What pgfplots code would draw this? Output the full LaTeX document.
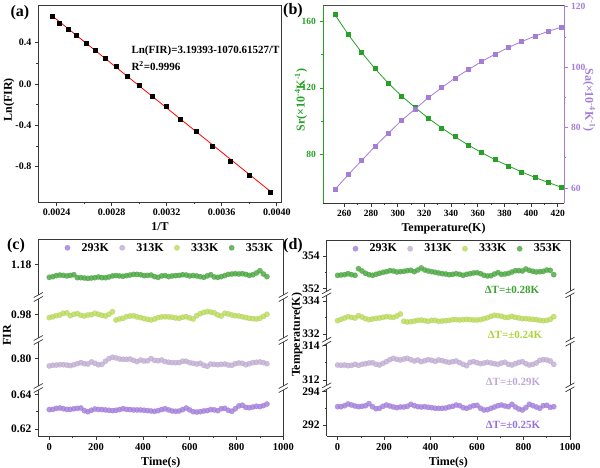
\documentclass[border=0pt]{standalone}
\usepackage{fontspec}
\setmainfont{Liberation Serif}
\usepackage{pgfplots}
\usepackage{pgfplotstable}
\pgfplotsset{compat=1.18}
\definecolor{cA}{RGB}{168,132,224}
\definecolor{cB}{RGB}{198,178,216}
\definecolor{cC}{RGB}{190,222,95}
\definecolor{cD}{RGB}{80,172,70}
\definecolor{srg}{RGB}{40,160,40}
\definecolor{sap}{RGB}{165,125,215}
\definecolor{frm}{RGB}{55,55,55}

\pgfplotstableread{
T invT lnfir
423 0.00236407 0.658
413 0.00242131 0.587
403 0.00248139 0.532
393 0.00254453 0.468
383 0.00261097 0.394
373 0.00268097 0.326
363 0.00275482 0.248
353 0.00283286 0.171
343 0.00291545 0.077
333 0.00300300 -0.013
323 0.00309598 -0.113
313 0.00319489 -0.219
303 0.00330033 -0.339
293 0.00341297 -0.458
283 0.00353357 -0.603
273 0.00366300 -0.745
263 0.00380228 -0.887
253 0.00395257 -1.048
}\tblA

\pgfplotstableread{
T Sr Sa
253 164.2 59.5
263 152.2 64.4
273 141.4 69.1
283 131.6 73.8
293 122.8 78.1
303 115.0 82.4
313 108.2 86.1
323 101.6 89.9
333 95.8 93.2
343 90.4 96.4
353 85.4 99.2
363 80.8 101.9
373 76.6 104.3
383 72.8 106.5
393 69.2 108.5
403 65.8 110.3
413 62.8 111.9
423 59.8 113.3
}\tblB

\pgfplotstableread{
t a b c d
0 0.6312 0.7956 0.9781 1.1725
15 0.6313 0.7960 0.9786 1.1729
30 0.6319 0.7961 0.9792 1.1735
45 0.6321 0.7963 0.9796 1.1738
60 0.6317 0.7963 0.9806 1.1736
75 0.6313 0.7961 0.9808 1.1733
90 0.6313 0.7958 0.9792 1.1736
105 0.6317 0.7963 0.9800 1.1740
120 0.6319 0.7969 0.9804 1.1723
135 0.6321 0.7975 0.9794 1.1723
150 0.6306 0.7969 0.9790 1.1721
165 0.6300 0.7967 0.9796 1.1719
180 0.6308 0.7979 0.9798 1.1721
195 0.6315 0.7971 0.9806 1.1723
210 0.6313 0.7963 0.9800 1.1727
225 0.6312 0.7965 0.9794 1.1723
240 0.6310 0.7983 0.9790 1.1723
255 0.6308 0.7998 0.9800 1.1727
270 0.6306 0.8006 0.9815 1.1733
285 0.6308 0.8002 0.9767 1.1735
300 0.6312 0.7996 0.9773 1.1733
315 0.6317 0.7994 0.9777 1.1731
330 0.6313 0.7994 0.9786 1.1735
345 0.6312 0.7996 0.9790 1.1738
360 0.6310 0.7988 0.9792 1.1742
375 0.6310 0.7981 0.9785 1.1742
390 0.6310 0.7990 0.9781 1.1740
405 0.6308 0.7984 0.9775 1.1735
420 0.6306 0.7986 0.9771 1.1736
435 0.6304 0.7998 0.9767 1.1738
450 0.6302 0.7988 0.9773 1.1729
465 0.6306 0.7986 0.9781 1.1725
480 0.6312 0.7990 0.9785 1.1733
495 0.6317 0.7981 0.9786 1.1735
510 0.6310 0.7977 0.9785 1.1729
525 0.6304 0.7975 0.9783 1.1733
540 0.6302 0.7975 0.9779 1.1735
555 0.6304 0.7975 0.9777 1.1736
570 0.6312 0.7983 0.9783 1.1740
585 0.6321 0.7983 0.9786 1.1738
600 0.6310 0.7975 0.9779 1.1733
615 0.6300 0.7971 0.9773 1.1735
630 0.6298 0.7967 0.9792 1.1733
645 0.6300 0.7971 0.9804 1.1729
660 0.6304 0.7960 0.9811 1.1725
675 0.6306 0.7954 0.9815 1.1733
690 0.6312 0.7967 0.9813 1.1740
705 0.6310 0.7965 0.9808 1.1727
720 0.6306 0.7963 0.9796 1.1725
735 0.6317 0.7965 0.9790 1.1729
750 0.6319 0.7967 0.9806 1.1735
765 0.6308 0.7961 0.9802 1.1742
780 0.6302 0.7960 0.9796 1.1744
795 0.6317 0.7969 0.9792 1.1746
810 0.6333 0.7973 0.9790 1.1744
825 0.6337 0.7971 0.9786 1.1746
840 0.6325 0.7963 0.9781 1.1742
855 0.6323 0.7969 0.9777 1.1736
870 0.6327 0.7975 0.9775 1.1740
885 0.6331 0.7977 0.9773 1.1750
900 0.6329 0.7979 0.9777 1.1763
915 0.6335 0.7975 0.9788 1.1744
930 0.6344 0.7969 0.9800 1.1729
}\tblC

\pgfplotstableread{
t a b c d
0 293.101 312.874 332.808 352.803
15 293.101 312.855 332.889 352.824
30 293.161 312.874 332.970 352.844
45 293.261 312.836 333.050 352.906
60 293.201 312.855 333.010 352.844
75 293.141 312.913 332.970 352.803
90 293.101 312.855 333.111 353.216
105 293.121 312.913 333.030 353.071
120 293.161 312.952 332.929 352.927
135 293.281 312.991 332.869 352.844
150 293.101 313.010 332.909 352.803
165 292.981 312.913 332.949 352.865
180 293.001 312.874 332.970 352.927
195 293.121 312.972 333.010 352.989
210 293.201 313.069 333.050 353.030
225 293.141 313.185 333.030 353.092
240 293.081 313.263 333.010 353.071
255 293.041 313.205 333.091 353.009
270 293.081 313.166 333.212 353.030
285 293.081 313.224 332.768 353.051
300 293.121 313.263 332.727 353.092
315 293.241 313.185 332.747 353.113
330 293.161 313.107 332.788 353.030
345 293.101 313.166 332.828 353.133
360 293.081 313.069 332.848 353.257
375 293.101 313.127 332.808 353.133
390 293.061 313.185 332.768 353.071
405 293.041 313.146 332.828 353.030
420 293.001 313.088 332.828 352.989
435 293.001 313.166 332.768 352.947
450 293.001 313.127 332.788 352.906
465 293.021 313.069 332.808 352.885
480 293.081 313.030 332.828 352.844
495 293.121 313.069 332.869 352.865
510 293.201 313.107 332.869 352.906
525 293.161 313.010 332.848 352.865
540 293.041 312.913 332.869 352.803
555 293.001 312.836 332.889 352.865
570 293.081 313.030 332.869 352.906
585 293.161 313.069 332.848 352.947
600 293.181 313.010 332.848 352.968
615 293.001 312.952 332.869 352.906
630 292.901 312.991 332.929 352.803
645 292.921 313.030 332.990 352.762
660 293.001 312.991 333.071 352.782
675 293.081 312.952 333.131 352.885
690 293.161 312.913 333.111 352.968
705 293.201 312.991 333.071 352.865
720 293.141 313.030 333.010 352.885
735 293.101 312.913 333.010 352.927
750 293.241 312.874 333.071 353.009
765 293.081 312.952 333.010 353.092
780 292.961 313.030 332.970 353.092
795 292.901 313.069 332.929 353.071
810 293.041 312.952 332.929 353.195
825 293.241 312.874 332.909 353.113
840 293.161 312.913 332.889 353.051
855 293.081 312.991 332.869 353.009
870 293.001 313.146 332.828 353.030
885 293.161 313.185 332.808 353.051
900 293.181 313.166 332.828 353.133
915 293.061 313.107 332.889 353.113
930 293.101 312.913 333.050 352.844
}\tblD

\pgfplotsset{
  base/.style={
    scale only axis, tick align=outside,
    axis line style={line width=0.8pt, frm},
    tick style={line width=0.7pt, frm},
    major tick length=3.5pt, minor tick length=2pt,
    tick label style={font=\bfseries\fontsize{10}{12}\selectfont},
    label style={font=\bfseries\fontsize{12}{14}\selectfont},
    /pgf/number format/assume math mode=true,
    /pgf/number format/1000 sep={},
    anchor=south west,
  },
  sc/.style={only marks, mark=*, mark size=2.7pt,
    mark options={fill=#1, draw=#1!85!black, line width=0.3pt, fill opacity=0.85, draw opacity=0.5}},
  segC/.style={base, width=245pt, xmin=-47, xmax=1000, axis line style={draw=none},
    xtick=\empty, ytick pos=left,
    yticklabel style={font=\bfseries\fontsize{11.5}{13}\selectfont},
    xticklabel style={font=\bfseries\fontsize{10.5}{12}\selectfont}},
  segD/.style={base, width=243.3pt, xmin=-47, xmax=1000, axis line style={draw=none},
    xtick=\empty, ytick pos=left,
    yticklabel style={font=\bfseries\fontsize{11.5}{13}\selectfont},
    xticklabel style={font=\bfseries\fontsize{10.5}{12}\selectfont}},
  lgd/.style={legend columns=4,
    legend image code/.code={\path (0pt,-2pt) (16pt,2pt); \draw[##1] plot coordinates {(4pt,0pt)};},
    legend style={draw=none, fill=none, inner sep=1pt,
    font=\bfseries\fontsize{12}{13}\selectfont,
    /tikz/every even column/.append style={column sep=7pt}}},
}
\newcommand{\brk}[2]{%
  \draw[line width=0.7pt, frm, shift={(#1pt,#2pt)}] (-4.5pt,-4.5pt) -- (4.5pt,0.5pt);
  \draw[line width=0.7pt, frm, shift={(#1pt,#2pt)}] (-4.5pt,-0.5pt) -- (4.5pt,4.5pt);}

\begin{document}
\begin{tikzpicture}
\path[use as bounding box] (0,0) rectangle (600pt,467pt);

% ---------------- (a)
\begin{axis}[base, at={(38.3pt,265pt)}, width=243.4pt, height=197pt,
  xmin=0.002266, xmax=0.004036, ymin=-1.142, ymax=0.765,
  xtick={0.0024,0.0028,0.0032,0.0036,0.0040},
  xticklabels={0.0024,0.0028,0.0032,0.0036,0.0040},
  scaled x ticks=false,
  ytick={-0.8,-0.4,0,0.4}, yticklabels={-0.8,-0.4,0.0,0.4},
  minor x tick num=1, minor y tick num=1, xtick pos=left, ytick pos=left,
  xlabel={1/T}]
\addplot[red, line width=0.8pt] coordinates {(0.00236407,0.6629) (0.00395257,-1.0378)};
\addplot[only marks, mark=square*, mark size=2pt, mark options={fill=black, draw=black}] table[x=invT, y=lnfir] {\tblA};
\end{axis}
\node[rotate=90, font=\bfseries\fontsize{12}{14}\selectfont] at (9pt,367pt) {Ln(FIR)};
\node[anchor=west, font=\bfseries\fontsize{11}{12}\selectfont] at (128pt,416pt) {Ln(FIR)=3.19393-1070.61527/T};
\node[anchor=west, font=\bfseries\fontsize{11}{12}\selectfont] at (128pt,401pt) {R\textsuperscript{2}=0.9996};

% ---------------- (b)
\begin{axis}[base, at={(323pt,264pt)}, width=241pt, height=198pt,
  xmin=244, xmax=424.7, ymin=50.4, ymax=170.1,
  axis y line*=left, axis x line*=bottom, tick align=outside,
  tick label style={font=\bfseries\fontsize{9.5}{11}\selectfont},
  y axis line style={srg}, ytick={80,120,160}, minor y tick num=1,
  yticklabel style={text=srg}, ytick style={srg},
  xtick={260,280,...,420}, minor x tick num=1,
  xlabel={Temperature(K)}]
\addplot[srg, line width=0.8pt, mark=square*, mark size=2pt, mark options={fill=srg}] table[x=T, y=Sr] {\tblB};
\end{axis}
\begin{axis}[base, at={(323pt,264pt)}, width=241pt, height=198pt,
  xmin=244, xmax=424.7, ymin=55, ymax=120.6,
  axis y line*=right, axis x line=none, tick align=outside,
  tick label style={font=\bfseries\fontsize{9.5}{11}\selectfont},
  y axis line style={sap}, ytick={60,80,100,120}, yticklabels={60,80,100,120},
  minor y tick num=1,
  yticklabel style={text=sap}, ytick style={sap}]
\addplot[sap, line width=0.8pt, mark=square*, mark size=2pt, mark options={fill=sap}] table[x=T, y=Sa] {\tblB};
\end{axis}
\draw[line width=0.8pt, black!70] (323pt,462pt) -- (564pt,462pt);
\node[rotate=90, text=srg, font=\bfseries\fontsize{12}{14}\selectfont] at (301pt,367pt) {Sr(×10\textsuperscript{-4}K\textsuperscript{-1})};
\node[rotate=-90, text=sap, font=\bfseries\fontsize{12}{14}\selectfont] at (589pt,367pt) {Sa(×10\textsuperscript{-4}K\textsuperscript{-1})};

% ---------------- (c)
\begin{axis}[segC, at={(38.3pt,31pt)}, height=48pt, ymin=0.61598, ymax=0.64363,
  ytick={0.62,0.64}, yticklabels={0.62,0.64}, minor ytick={0.63},
  xtick={0,200,...,1000}, minor x tick num=1, xtick pos=left, xlabel={Time(s)}]
\addplot[sc=cA] table[x=t, y=a] {\tblC};
\end{axis}
\begin{axis}[segC, at={(38.3pt,79pt)}, height=48pt, ymin=0.78289, ymax=0.81054,
  ytick={0.80}, yticklabels={0.80}]
\addplot[sc=cB] table[x=t, y=b] {\tblC};
\end{axis}
\begin{axis}[segC, at={(38.3pt,127pt)}, height=43pt, ymin=0.96520, ymax=0.98996,
  ytick={0.98}, yticklabels={0.98}]
\addplot[sc=cC] table[x=t, y=c] {\tblC};
\end{axis}
\begin{axis}[segC, at={(38.3pt,170pt)}, height=58pt, ymin=1.16117, ymax=1.19457,
  ytick={1.18}, yticklabels={1.18}, lgd,
  legend style={at={(axis description cs:0.097,0.985)}, anchor=north west}]
\addlegendimage{sc=cA}\addlegendentry{293K}
\addlegendimage{sc=cB}\addlegendentry{313K}
\addlegendimage{sc=cC}\addlegendentry{333K}
\addplot[sc=cD] table[x=t, y=d] {\tblC};
\addlegendentry{353K}
\end{axis}
\begin{scope}[line width=0.8pt, frm]
\draw (38.3pt,31pt) -- (283.3pt,31pt);
\draw (38.3pt,228pt) -- (283.3pt,228pt);
\foreach \xx in {38.3,283.3}{
  \draw (\xx pt,31pt) -- (\xx pt,77pt);
  \draw (\xx pt,81pt) -- (\xx pt,125pt);
  \draw (\xx pt,129pt) -- (\xx pt,168pt);
  \draw (\xx pt,172pt) -- (\xx pt,228pt);
  \brk{\xx}{79}\brk{\xx}{127}\brk{\xx}{170}
}
\end{scope}
\node[rotate=90, font=\bfseries\fontsize{12}{14}\selectfont] at (7pt,132pt) {FIR};

% ---------------- (d)
\begin{axis}[segD, at={(326.7pt,31pt)}, height=48.7pt, ymin=291.339, ymax=294.264,
  ytick={292,294}, minor ytick={293},
  xtick={0,200,...,1000}, minor x tick num=1, xtick pos=left, xlabel={Time(s)}]
\addplot[sc=cA] table[x=t, y=a] {\tblD};
\end{axis}
\begin{axis}[segD, at={(326.7pt,79.7pt)}, height=45.6pt, ymin=311.574, ymax=314.233,
  ytick={312,314}, minor ytick={313}]
\addplot[sc=cB] table[x=t, y=b] {\tblD};
\end{axis}
\begin{axis}[segD, at={(326.7pt,125.3pt)}, height=48.4pt, ymin=331.533, ymax=334.467,
  ytick={332,334}, minor ytick={333}]
\addplot[sc=cC] table[x=t, y=c] {\tblD};
\end{axis}
\begin{axis}[segD, at={(326.7pt,173.7pt)}, height=53.3pt, ymin=351.690, ymax=354.991,
  ytick={352,354}, minor ytick={353}, lgd,
  legend style={at={(axis description cs:0.096,0.985)}, anchor=north west}]
\addlegendimage{sc=cA}\addlegendentry{293K}
\addlegendimage{sc=cB}\addlegendentry{313K}
\addlegendimage{sc=cC}\addlegendentry{333K}
\addplot[sc=cD] table[x=t, y=d] {\tblD};
\addlegendentry{353K}
\end{axis}
\begin{scope}[line width=0.8pt, frm]
\draw (326.7pt,31pt) -- (570pt,31pt);
\draw (326.7pt,227pt) -- (570pt,227pt);
\foreach \xx in {326.7,570}{
  \draw (\xx pt,31pt) -- (\xx pt,77.7pt);
  \draw (\xx pt,81.7pt) -- (\xx pt,123.3pt);
  \draw (\xx pt,127.3pt) -- (\xx pt,171.7pt);
  \draw (\xx pt,175.7pt) -- (\xx pt,227pt);
  \brk{\xx}{79.7}\brk{\xx}{125.3}\brk{\xx}{173.7}
}
\end{scope}
\node[rotate=90, font=\bfseries\fontsize{12}{14}\selectfont] at (297pt,132pt) {Temperature(K)};
\node[font=\bfseries\fontsize{11}{12}\selectfont, text={rgb,255:red,60;green,160;blue,50}] at (512pt,177pt) {ΔT=±0.28K};
\node[font=\bfseries\fontsize{11}{12}\selectfont, text={rgb,255:red,172;green,210;blue,60}] at (515pt,132pt) {ΔT=±0.24K};
\node[font=\bfseries\fontsize{11}{12}\selectfont, text={rgb,255:red,190;green,168;blue,214}] at (513pt,85pt) {ΔT=±0.29K};
\node[font=\bfseries\fontsize{11}{12}\selectfont, text={rgb,255:red,150;green,112;blue,222}] at (513pt,42pt) {ΔT=±0.25K};

% panel letters
\node[font=\bfseries\fontsize{16}{18}\selectfont] at (20pt,454pt) {(a)};
\node[font=\bfseries\fontsize{16}{18}\selectfont] at (293pt,456pt) {(b)};
\node[font=\bfseries\fontsize{16}{18}\selectfont] at (16pt,221pt) {(c)};
\node[font=\bfseries\fontsize{16}{18}\selectfont] at (293pt,221pt) {(d)};
\end{tikzpicture}
\end{document}
